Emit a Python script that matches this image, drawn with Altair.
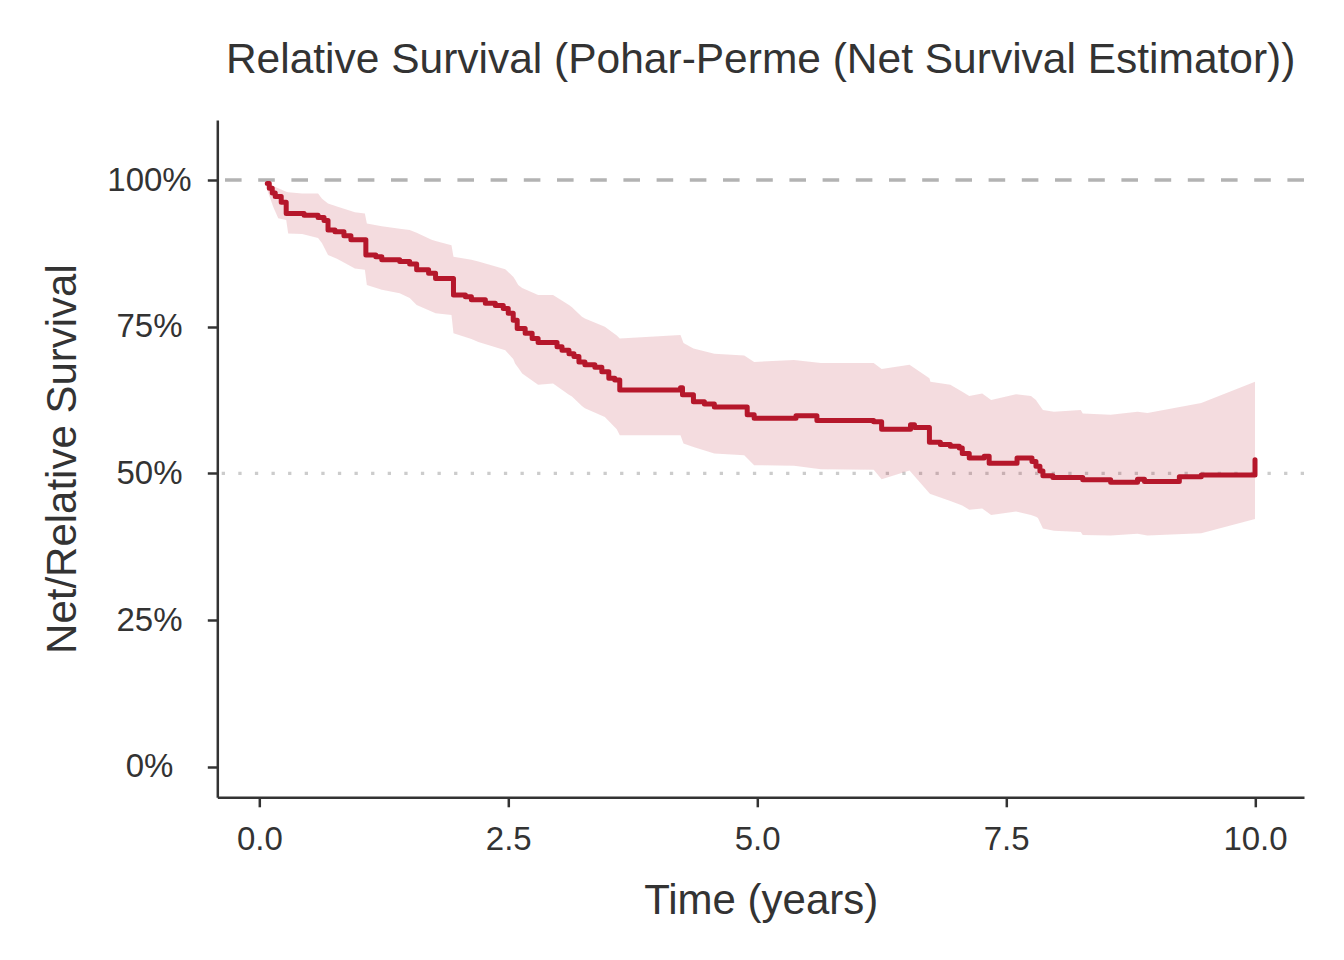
import altair as alt
import pandas as pd

# Net survival step curve (time in years, survival in %)
step_time = [0.08, 0.10, 0.13, 0.16, 0.22, 0.27, 0.45, 0.59, 0.65, 0.69, 0.76, 0.85, 0.92,
             1.07, 1.17, 1.23, 1.41, 1.51, 1.58, 1.70, 1.77, 1.95, 2.07, 2.13, 2.27, 2.37,
             2.45, 2.50, 2.55, 2.59, 2.67, 2.74, 2.80, 2.99, 3.04, 3.11, 3.16, 3.21, 3.27,
             3.37, 3.44, 3.51, 3.57, 3.62, 4.23, 4.25, 4.36, 4.47, 4.57, 4.90, 4.97, 5.39,
             5.60, 6.17, 6.25, 6.54, 6.58, 6.73, 6.84, 6.94, 7.03, 7.06, 7.13, 7.28, 7.33,
             7.61, 7.76, 7.80, 7.84, 7.87, 7.97, 8.27, 8.55, 8.82, 8.89, 9.24, 9.46, 10.0]
step_surv = [99.4, 98.6, 97.8, 97.2, 96.2, 94.3, 94.0, 93.6, 93.1, 91.5, 91.2, 90.5, 89.8,
             87.2, 86.9, 86.4, 86.1, 85.7, 84.7, 84.1, 83.2, 80.4, 80.1, 79.6, 79.0, 78.6,
             78.1, 77.3, 76.1, 74.7, 73.9, 73.0, 72.3, 71.6, 71.0, 70.4, 69.9, 69.0, 68.5,
             68.1, 67.3, 66.2, 65.9, 64.2, 64.6, 63.4, 62.2, 61.8, 61.3, 60.0, 59.4, 59.8,
             59.0, 58.8, 57.5, 58.3, 57.8, 55.3, 54.9, 54.6, 54.3, 53.4, 52.6, 52.9, 51.7,
             52.6, 52.0, 51.2, 50.4, 49.6, 49.3, 48.9, 48.5, 49.0, 48.6, 49.4, 49.7, 52.3]

# Confidence band (time in years, lower / upper in %)
band_time = [0.08, 0.14, 0.19, 0.27, 0.29, 0.43, 0.59, 0.63, 0.69, 0.78, 0.96, 1.06, 1.08,
             1.23, 1.41, 1.51, 1.58, 1.73, 1.77, 1.93, 1.95, 2.13, 2.20, 2.47, 2.55, 2.57,
             2.60, 2.64, 2.80, 2.95, 3.11, 3.14, 3.24, 3.27, 3.47, 3.59, 3.62, 4.23, 4.26,
             4.36, 4.57, 4.87, 4.97, 5.37, 5.64, 6.17, 6.25, 6.53, 6.73, 6.74, 6.94, 7.06,
             7.13, 7.26, 7.35, 7.60, 7.75, 7.80, 7.82, 7.87, 7.98, 8.25, 8.27, 8.55, 8.82,
             8.92, 9.46, 10.0]
band_lower = [98.3, 95.4, 93.5, 93.2, 90.9, 90.8, 90.1, 89.2, 87.2, 86.6, 84.9, 84.7, 82.1,
              81.3, 80.7, 79.9, 78.7, 77.6, 77.3, 77.0, 73.9, 72.9, 72.4, 71.0, 69.5, 68.7,
              68.0, 67.0, 65.1, 65.3, 63.4, 63.1, 61.5, 61.1, 59.6, 57.5, 56.5, 56.5, 55.1,
              54.5, 53.4, 53.1, 51.4, 51.3, 50.7, 50.6, 49.0, 50.5, 46.6, 46.5, 45.3, 44.5,
              43.8, 44.0, 42.9, 43.5, 42.9, 42.6, 42.4, 40.6, 40.2, 40.0, 39.5, 39.4, 39.7,
              39.4, 39.8, 42.2]
band_upper = [99.7, 99.0, 98.6, 98.0, 97.9, 97.7, 97.7, 96.8, 96.0, 95.5, 94.5, 94.3, 92.6,
              92.1, 91.7, 91.5, 91.0, 89.8, 89.6, 88.9, 86.9, 86.4, 86.1, 84.8, 83.5, 83.0,
              82.1, 81.6, 80.4, 80.4, 78.7, 78.3, 76.7, 76.4, 75.0, 73.5, 73.0, 73.6, 72.2,
              71.3, 70.4, 70.1, 69.0, 69.3, 68.8, 68.8, 67.8, 68.5, 66.2, 65.6, 65.1, 63.9,
              63.2, 63.6, 62.5, 63.5, 63.2, 62.5, 62.0, 60.8, 60.5, 60.8, 60.2, 60.0, 60.5,
              60.3, 62.0, 65.6]

x_ticks = [0, 2.5, 5, 7.5, 10]
y_ticks = [0, 25, 50, 75, 100]
ref_full = [100]
ref_half = [50]

RED = "#B5172B"
FONT = "Liberation Sans"
TXT = "#333333"

step_df = pd.DataFrame({"time": step_time, "surv": step_surv})
band_df = pd.DataFrame({"time": band_time, "lo": band_lower, "hi": band_upper})

xscale = alt.Scale(domain=[-0.422, 10.492], nice=False, zero=False)
yscale = alt.Scale(domain=[-5.22, 110.23], nice=False, zero=False)

xaxis = alt.Axis(values=x_ticks, format=".1f", title="Time (years)", grid=False,
                 tickSize=9.5, labelPadding=43.2, labelBaseline="alphabetic",
                 labelFlush=False, labelOverlap=False,
                 titleBaseline="alphabetic", titleX=543.4, titleY=116.7,
                 titleAlign="center")
yaxis = alt.Axis(values=y_ticks, labelExpr="datum.value + '%'",
                 title="Net/Relative Survival", grid=False,
                 tickSize=10, labelPadding=58.3, labelAlign="center",
                 labelBaseline="middle", labelFlush=False, labelOverlap=False,
                 titleAngle=270, titleBaseline="alphabetic", titleX=-142.3,
                 titleY=338.6, titleAlign="center")

band = alt.Chart(band_df).mark_area(color=RED, opacity=0.15).encode(
    x=alt.X("time:Q", scale=xscale, axis=xaxis),
    y=alt.Y("lo:Q", scale=yscale, axis=yaxis),
    y2="hi:Q",
)

ref100 = alt.Chart(pd.DataFrame({"v": ref_full})).mark_rule(
    color="#B3B3B3", strokeWidth=3.5, strokeDash=[16.6, 16.6]
).encode(y=alt.Y("v:Q", scale=yscale))

ref50 = alt.Chart(pd.DataFrame({"v": ref_half})).mark_rule(
    color="#CCCCCC", strokeWidth=3.3, strokeDash=[3.3, 13.3]
).encode(y=alt.Y("v:Q", scale=yscale))

line = alt.Chart(step_df).mark_line(
    color=RED, strokeWidth=5, interpolate="step-after",
    strokeJoin="round", strokeCap="round"
).encode(
    x=alt.X("time:Q", scale=xscale),
    y=alt.Y("surv:Q", scale=yscale),
)

chart = alt.layer(ref100, ref50, band, line).properties(
    width=1086.7,
    height=677.3,
    title=alt.TitleParams(
        "Relative Survival (Pohar-Perme (Net Survival Estimator))",
        anchor="middle", frame="group", baseline="alphabetic", offset=4.5,
        font=FONT, fontSize=42.5, fontWeight="normal", color=TXT,
    ),
    autosize=alt.AutoSizeParams(type="none"),
    padding={"left": 209.3, "top": 112, "right": 32, "bottom": 140},
).configure_view(strokeWidth=0).configure_axis(
    domainColor=TXT, domainWidth=2.5, tickColor=TXT, tickWidth=2.5,
    labelFont=FONT, labelFontSize=33, labelColor=TXT,
    titleFont=FONT, titleFontSize=42, titleColor=TXT, titleFontWeight="normal",
)

chart.save("out.html", embed_options={"renderer": "svg", "actions": False})
